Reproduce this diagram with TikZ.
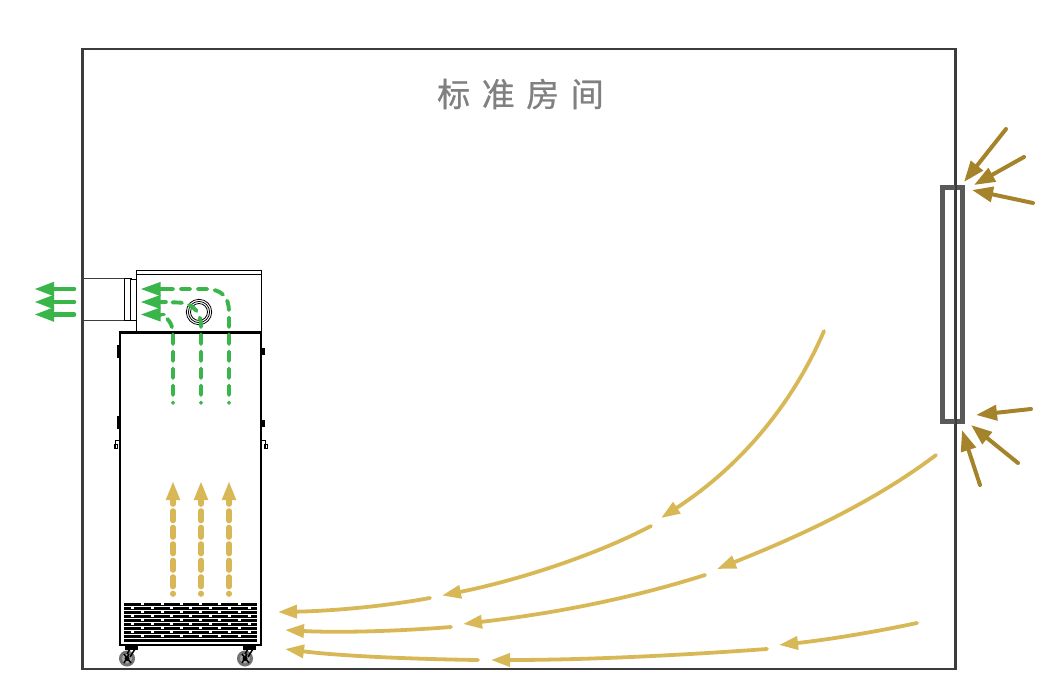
\documentclass[tikz,border=0pt]{standalone}
\usepackage{fontspec}
\newfontfamily\cjkfont[LetterSpace=35,FakeBold=0.7]{Noto Sans CJK SC}
\usepackage{xcolor}
\usepackage{tikz}
\usetikzlibrary{
  arrows.meta,
  positioning,
  calc
}
\definecolor{arYellow}{HTML}{D8B856}
\definecolor{arGreen}{HTML}{39B54A}
\definecolor{arBrown}{HTML}{A5832B}
\definecolor{wallGray}{HTML}{3C3C3C}
\definecolor{winGray}{HTML}{595959}

\begin{document}
\begin{tikzpicture}[
      x=1pt, y=-1pt,
      room/.style={draw=wallGray, line width=1.8pt, minimum width=872pt, minimum height=620pt, inner sep=0pt},
      janela/.style={draw=winGray, line width=4.2pt, minimum width=20pt, minimum height=234pt, inner sep=0pt},
      titulo/.style={text=black!50, font=\fontsize{33}{36}\selectfont\cjkfont, inner sep=0pt},
      caixa/.style={draw=black, line width=1pt, fill=white, inner sep=0pt},
      seta/.style={-{Triangle[length=19pt, width=13pt]}, line width=3.8pt, line cap=round, arYellow},
      setaTraco/.style={seta, line width=5.6pt, dash pattern=on 9.5pt off 7pt, dash phase=9pt},
      setaVerde/.style={-{Triangle[length=20pt, width=13pt]}, line width=4.6pt, line cap=round, arGreen},
      tracoVerde/.style={line width=3.9pt, line cap=round, arGreen, dash pattern=on 9.5pt off 7.5pt, dash phase=9pt},
      setaMarrom/.style={-{Triangle[length=21pt, width=15pt]}, line width=4pt, line cap=round, arBrown}
  ]
      \useasboundingbox (0,0) rectangle (1047,691);

      % Sala e janela
      \node[room] (sala) at (519,359) {};
      \node[titulo] (tit) at (520.5,94) {标准房间};

      % Purificador
      \node[caixa, minimum width=141pt, minimum height=312pt, line width=1.8pt] (corpo) at (190.5,489) {};
      \node[caixa, minimum width=125pt, minimum height=63pt] (topo) at (198.5,301.5) {};
      \draw[line width=1.8pt] (corpo.north west) -- (corpo.north east);
      \draw[line width=.8pt] (topo.north west) ++(0,5) -- ++(125,0);
      \node[draw=wallGray, fill=white, line width=1pt, minimum width=41pt, minimum height=42pt, inner sep=0pt] (duto) at (103.5,299.5) {};
      \node[caixa, line width=.8pt, minimum width=7pt, minimum height=42pt] (anel) at (127.5,299.5) {};
      \node[caixa, line width=.8pt, minimum width=6pt, minimum height=41pt] (gola) at (133,299.5) {};
      \draw[wallGray, line width=1.8pt] (sala.north west) -- (sala.south west);
      \foreach \r in {12.7,10.6,8.5}
        \draw[black, line width=.8pt] (199,312) circle (\r);
      \fill[black] (116.5,345) rectangle (120,358);
      \fill[black] (116.5,416) rectangle (120,429);
      \fill[black] (261,347.5) rectangle (265,354.5);
      \fill[black] (261,419.5) rectangle (265,426.5);
      \foreach \xa/\xb in {120/115.5,261/265.5} {
        \draw[line width=.8pt] (\xa,440.5) -- (\xb,440.5) -- (\xb,448);
        \draw[line width=.8pt] (\xb-1.5,444) rectangle (\xb+1.5,448.5);
      }

      % Grelha
      \foreach \y in {604,608,...,640}
        \draw[black, line width=3pt] (124,\y) -- (257,\y);
      \foreach \y in {604,612,...,640}
        \foreach \x in {142,162,181,200,219,239}
          \fill[white] (\x-1.5,\y-1) rectangle (\x+1.5,\y+1);
      \foreach \y in {608,616,...,636}
        \foreach \x in {132,152,171,190,210,229,249}
          \fill[white] (\x-1.5,\y-1) rectangle (\x+1.5,\y+1);

      % Rodas
      \foreach \x in {127,245} {
        \fill[black] (\x-2,646) rectangle (\x+11,649.5);
        \draw[black!55, line width=3pt, fill=black!35] (\x,658.5) circle (6.5);
        \draw[black, line width=1.5pt] (\x-3,654) -- (\x+4,663) (\x+2,654) -- (\x-3,663) (\x+8,649) -- (\x+3,657) (\x+3,649) -- (\x,654);
        \fill[black] (\x,658.5) circle (2.5);
      }

      % Janela (sobre a parede)
      \node[janela] (jan) at (952.5,304.5) {};
      \draw[wallGray, line width=1.8pt] (sala.north east) -- (sala.south east);

      % Fluxo sujo
      \foreach \x in {173,201,229}
        \draw[setaTraco] (\x,594) -- (\x,481);

      % Fluxo limpo
      \draw[tracoVerde] (229,403) -- (229,312) .. controls (229,297) and (222,289) .. (205,289) -- (162,289);
      \draw[tracoVerde] (201,403) -- (201,326) .. controls (201,316) and (196,303) .. (178,302.5) -- (162,302);
      \draw[tracoVerde] (173,403) -- (173,335) .. controls (173,324) and (168,317) .. (160,315);
      \draw[setaVerde, line width=3.6pt] (166,289) -- (140.5,289);
      \draw[setaVerde, line width=3.6pt] (166,302) -- (140.5,302);
      \draw[setaVerde, line width=3.6pt] (164,314.5) -- (140.5,314.5);
      \foreach \y in {289,302,314.5}
        \draw[setaVerde] (74,\y) -- (34,\y);

      % Curvas de ar
      \draw[seta] (824,331) .. controls (790,410) and (735,470) .. (661,518);
      \draw[seta] (651,526) .. controls (590,558) and (510,582) .. (442,595.5);
      \draw[seta] (430,598) .. controls (380,607) and (330,611) .. (278,612);
      \draw[seta] (936,455) .. controls (870,505) and (790,540) .. (717,569);
      \draw[seta] (705,575) .. controls (620,602) and (540,615) .. (463,624);
      \draw[seta] (451,627) .. controls (400,631) and (340,633) .. (285,630);
      \draw[seta] (917,623) .. controls (870,633) and (825,640) .. (779,645);
      \draw[seta] (767,649) .. controls (670,656) and (580,660) .. (491,660);
      \draw[seta] (478,660) .. controls (410,659) and (340,656) .. (285,649);

      % Infiltracao
      \draw[setaMarrom] (1006,129) -- (964,182);
      \draw[setaMarrom] (1024,157) -- (974,185);
      \draw[setaMarrom] (1033,203) -- (972,190);
      \draw[setaMarrom] (1031,409) -- (976,415);
      \draw[setaMarrom] (1018,463) -- (971,425);
      \draw[setaMarrom] (980,485) -- (962,430);
  \end{tikzpicture}
\end{document}
